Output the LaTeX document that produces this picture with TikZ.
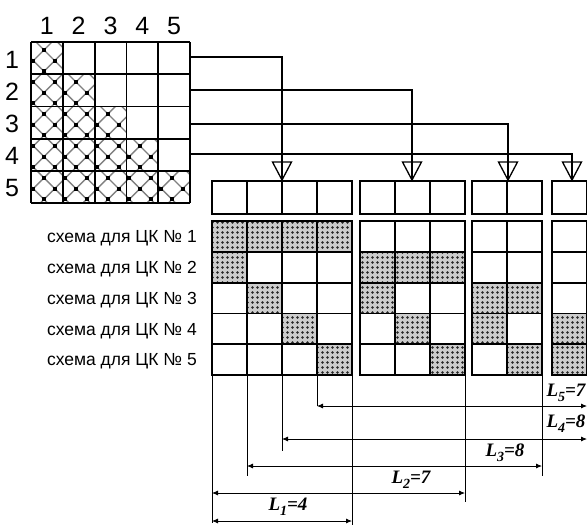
\documentclass[tikz,border=0pt]{standalone}
\usepackage{fontspec}
\setmainfont{Liberation Sans}
\newfontfamily\dimfont{Liberation Serif}
\usetikzlibrary{arrows.meta,patterns}

\pgfdeclarepatternformonly{celldots}{\pgfqpoint{-1pt}{-1pt}}{\pgfqpoint{6pt}{6pt}}{\pgfqpoint{5pt}{5pt}}{%
  \pgfpathcircle{\pgfqpoint{2.5pt}{2.5pt}}{1.3pt}\pgfusepath{fill}}
\newcommand\dimsub[1]{\raisebox{-5.5pt}{\fontsize{14}{14}\selectfont #1}}

\tikzset{
  gridline/.style={line width=1.8pt},
  tapline/.style={line width=1.3pt},
  dimline/.style={line width=0.8pt},
  dimarrow/.style={line width=0.8pt,{Latex[length=6pt,width=5pt]}-{Latex[length=6pt,width=5pt]}},
  dotcell/.style={preaction={fill=black!20},pattern=celldots,pattern color=black!85},
  numlbl/.style={font=\fontsize{25}{25}\selectfont,inner sep=0pt},
  schemelbl/.style={font=\fontsize{17.5}{17.5}\selectfont,inner sep=0pt,anchor=east},
  dimlbl/.style={font=\dimfont\bfseries\itshape\fontsize{19}{19}\selectfont,inner sep=0pt,anchor=base},
}

\begin{document}
\begin{tikzpicture}[x=1pt,y=-1pt,line cap=butt,line join=miter]
  \useasboundingbox (0,0) rectangle (587,525);
  % crosshatched lower triangle of the matrix
  \begin{scope}
    \clip (31,42) -- (62.8,42) -- (62.8,74.2) -- (94.6,74.2) -- (94.6,106.4) -- (126.4,106.4)
      -- (126.4,138.6) -- (158.2,138.6) -- (158.2,170.8) -- (190,170.8) -- (190,203) -- (31,203) -- cycle;
    \foreach \k in {-10,...,16}{
      \pgfmathsetmacro{\a}{-6+21.33*\k}
      \pgfmathsetmacro{\b}{94+21.33*\k}
      \draw[black!50,line width=1.4pt] (\a+30,30) -- (\a+210,210);
      \draw[black!50,line width=1.4pt] (\b-30,30) -- (\b-210,210);
    }
    \foreach \i in {-10,...,8}{
      \foreach \j in {-1,...,16}{
        \pgfmathsetmacro{\a}{-6+21.33*\i}
        \pgfmathsetmacro{\b}{94+21.33*\j}
        \fill ({(\a+\b)/2-2},{(\b-\a)/2-2}) rectangle ++(4,4);
      }
    }
  \end{scope}
  % matrix grid
  \foreach \i in {0,...,5}{
    \draw[gridline] ({31+31.8*\i},42) -- ({31+31.8*\i},203);
    \draw[gridline] (31,{42+32.2*\i}) -- (190,{42+32.2*\i});
  }
  \foreach \c in {1,...,5}{
    \node[numlbl] (col\c) at ({31+31.8*(\c-0.5)},26) {\c};
    \node[numlbl] (row\c) at (12,{42+32.2*(\c-0.5)+1.5}) {\c};
  }
  % taps from the matrix rows to the blocks
  \foreach \n/\y/\x in {1/57/282,2/90/412,3/124/508,4/154/572}{
    \coordinate (tap\n) at (190,\y);
    \coordinate (tip\n) at (\x,180);
    \draw[tapline] (tap\n) -| (tip\n);
    \draw[tapline] (tip\n) -- ++(-9.5,-18) -- ++(19,0) -- cycle;
  }
  % blocks
  \foreach \bx/\n in {212/4,360/3,472/2,552/1}{
    \foreach \s/\c/\r in {212/1/1,212/2/1,212/3/1,212/4/1,212/1/2,212/2/3,212/3/4,212/4/5,
                          360/1/2,360/2/2,360/3/2,360/1/3,360/2/4,360/3/5,
                          472/1/3,472/2/3,472/1/4,472/2/5,552/1/4,552/1/5}{
      \ifnum\s=\bx
        \fill[dotcell] ({\bx+35*(\c-1)},{221+30.8*(\r-1)}) rectangle ++(35,30.8);
      \fi
    }
    \draw[gridline] (\bx,181) rectangle ({\bx+35*\n},214);
    \draw[gridline] (\bx,221) rectangle ({\bx+35*\n},375);
    \foreach \c in {1,...,\n}{
      \draw[gridline] ({\bx+35*\c},181) -- ({\bx+35*\c},214);
      \draw[gridline] ({\bx+35*\c},221) -- ({\bx+35*\c},375);
    }
    \foreach \r in {1,...,4}{
      \draw[gridline] (\bx,{221+30.8*\r}) -- ({\bx+35*\n},{221+30.8*\r});
    }
  }
  \foreach \r in {1,...,5}{
    \node[schemelbl] (scheme\r) at (197,{221+30.8*(\r-0.5)+2}) {схема для ЦК № \r};
  }
  % dimensions
  \foreach \x/\yb in {212/523,247/476,282/451,317/406,352/525,465/502,542/476}{
    \draw[dimline] (\x,375) -- (\x,\yb);
  }
  \draw[dimarrow] (317,406) -- (587,406);
  \draw[dimarrow] (282,439) -- (587,439);
  \draw[dimarrow] (247,466) -- (542,466);
  \draw[dimarrow] (212,493) -- (465,493);
  \draw[dimarrow] (212,521) -- (352,521);
  \node[dimlbl] (len5) at (566,396) {L\dimsub{5}=7};
  \node[dimlbl] (len4) at (566,427) {L\dimsub{4}=8};
  \node[dimlbl] (len3) at (505,456) {L\dimsub{3}=8};
  \node[dimlbl] (len2) at (411,483) {L\dimsub{2}=7};
  \node[dimlbl] (len1) at (288,510) {L\dimsub{1}=4};
\end{tikzpicture}
\end{document}
